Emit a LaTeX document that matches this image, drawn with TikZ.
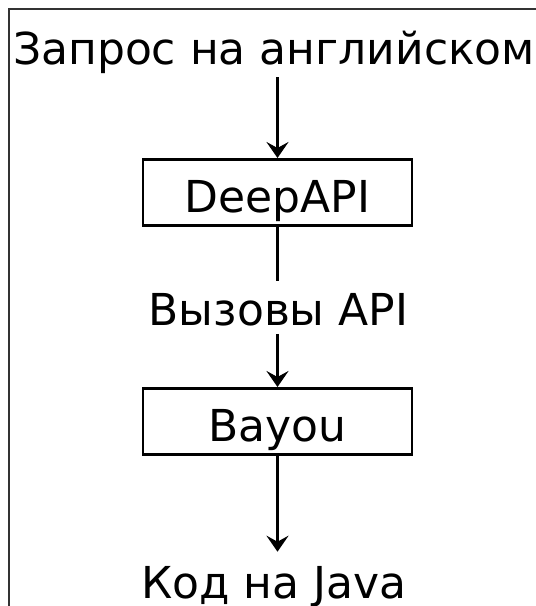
\documentclass[tikz,border=0pt]{standalone}
\usepackage{fontspec}
\setmainfont{DejaVu Sans}
\usetikzlibrary{arrows.meta}
\begin{document}
\begin{tikzpicture}[x=1pt,y=-1pt,
  caption/.style={inner sep=0pt, font=\fontsize{44}{52}\selectfont},
  stage/.style={draw, line width=2.6pt, inner sep=0pt, minimum width=269pt,
    text height=53pt, text depth=13pt, font=\fontsize{44}{52}\selectfont},
  flow/.style={line width=2.6pt, -{Stealth[length=16pt,width=22pt,inset=6pt]}},
  link/.style={line width=2.6pt}]
  \useasboundingbox (0,0) rectangle (536,606);
  \clip (0,0) rectangle (536,606);
  % outer frame, running past the right and bottom edges
  \draw[line width=2.4pt, black!80] (9,9) rectangle (600,700);

  \node[caption, anchor=base] (query) at (274,64) {Запрос на английском};
  \node[stage, anchor=north] (deep) at (277.5,158) {DeepAPI};
  \node[caption, anchor=base] (calls) at (278.5,325) {Вызовы API};
  \node[stage, anchor=north] (bayou) at (277.5,387) {Bayou};
  \node[caption, anchor=base] (code) at (274,598) {Код на Java};

  \draw[flow] ([yshift=-4pt]query.south -| deep.north) -- (deep.north);
  \draw[link] (deep.south) -- ([yshift=12pt]calls.north -| deep.south);
  \draw[flow] ([yshift=-8pt]calls.south -| bayou.north) -- (bayou.north);
  \draw[flow] (bayou.south) -- ([yshift=14pt]code.north -| bayou.south);
\end{tikzpicture}
\end{document}
